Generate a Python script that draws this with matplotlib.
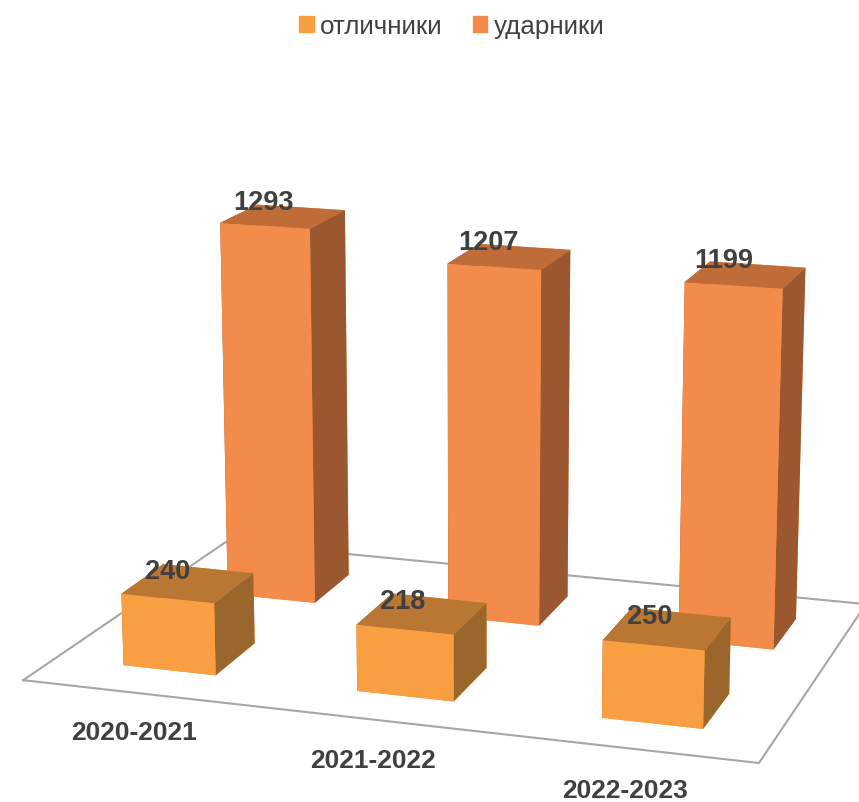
import numpy as np
import matplotlib
matplotlib.use("Agg")
import matplotlib.pyplot as plt
from matplotlib.patches import Patch

years = ["2020-2021", "2021-2022", "2022-2023"]
otlichniki = [240, 218, 250]
udarniki = [1293, 1207, 1199]

# bottom, top, front, back, left, right
c_otl = ["#F99E41", "#BA7733", "#F99E41", "#F99E41", "#9B662B", "#9B662B"]
c_uda = ["#F38B4A", "#C06C38", "#F38B4A", "#F38B4A", "#9B5730", "#9B5730"]

fig = plt.figure(figsize=(8.59, 8.03), dpi=100)
ax = fig.add_axes([0.037, -0.057, 1, 1], projection="3d")
ax.set_proj_type("persp", focal_length=0.75)
ax.view_init(elev=15, azim=-72)
ax.set_axis_off()
ax.set_box_aspect((3, 2, 1.76), zoom=1.2)

x = np.arange(3)
w = 0.40
d = 0.42
ax.bar3d(x - w / 2 - 0.045, np.zeros(3) - d / 2, np.zeros(3), w, d, otlichniki, color=c_otl * 3, shade=False)
ax.bar3d(x - w / 2, np.ones(3) - d / 2, np.zeros(3), w, d, udarniki, color=c_uda * 3, shade=False)

# пол
fx = [-0.55, 2.44, 2.44, -0.5, -0.55]
fy = [-0.5, -0.5, 1.5, 1.5, -0.5]
ax.plot(fx, fy, [0] * 5, color="#A6A6A6", lw=1.5, zorder=0, clip_on=False)

ax.set_xlim(-0.5, 2.5)
ax.set_ylim(-0.5, 1.5)
ax.set_zlim(0, 1400)

for i in range(3):
    ax.text(x[i] - 0.09, -0.1, otlichniki[i] + 20, str(otlichniki[i]), fontsize=19.5, fontweight="bold",
            color="#404040", family="Liberation Sans", ha="center", va="bottom", zorder=100)
    ax.text(x[i] - 0.09, 1.0, udarniki[i], str(udarniki[i]), fontsize=19.5, fontweight="bold",
            color="#404040", family="Liberation Sans", ha="center", va="bottom", zorder=100)
    ax.text(x[i] * 0.965 + 0.11, -0.915, 0, years[i], fontsize=19, fontweight="bold", color="#404040",
            family="Liberation Sans", ha="center", va="center")

fig.legend(handles=[Patch(color="#F99E41", label="отличники"), Patch(color="#F38B4A", label="ударники")],
           loc="upper center", bbox_to_anchor=(0.526, 1.01), ncol=2, frameon=False,
           prop={"family": "Liberation Sans", "size": 18.7}, labelcolor="#404040",
           handlelength=0.55, handleheight=0.55, handletextpad=0.25, columnspacing=1.15)

fig.savefig("out.png", dpi=100)
